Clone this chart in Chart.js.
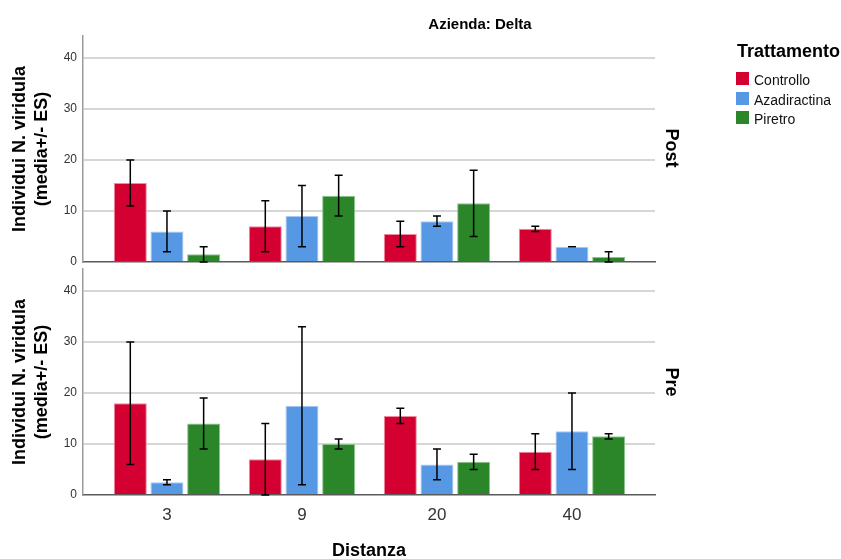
<!DOCTYPE html>
<html>
<head>
<meta charset="utf-8">
<script src="https://cdn.jsdelivr.net/npm/chart.js@4.4.1/dist/chart.umd.min.js"></script>
<style>
  body { margin: 0; background: #fff; font-family: "Liberation Sans", Arial, sans-serif; }
  #wrap { position: relative; width: 841px; height: 559px; overflow: hidden; }
  canvas { position: absolute; left: 0; top: 0; }
  .lbl { position: absolute; white-space: nowrap; color: #000; }
  .strip { font-weight: bold; font-size: 18px; transform: translate(-50%, -50%) rotate(90deg); }
  #panel-title { left: 480px; top: 23px; font-weight: bold; font-size: 15px; transform: translate(-50%, -50%); }
  #legend-title { left: 737px; top: 41px; font-weight: bold; font-size: 18px; }
  .legend-item { position: absolute; left: 736px; font-size: 14px; color: #111; }
  .legend-item span { display: inline-block; width: 13px; height: 13px; vertical-align: top; margin-right: 5px; }
</style>
</head>
<body>
<div id="wrap">
  <canvas id="post-chart" width="841" height="559"></canvas>
  <canvas id="pre-chart" width="841" height="559"></canvas>
  <div class="lbl" id="panel-title">Azienda: Delta</div>
  <div class="lbl strip" style="left:671px; top:148px;">Post</div>
  <div class="lbl strip" style="left:671px; top:382px;">Pre</div>
  <div class="lbl" id="legend-title">Trattamento</div>
  <div id="legend"></div>
</div>
<script>
const distances = ["3", "9", "20", "40"];
const treatments = ["Controllo", "Azadiractina", "Piretro"];
const colors = ["#d50032", "#5698e4", "#2b862a"];
const borderColors = ["#ef8aa0", "#a9cbf2", "#8cc48b"];

// Post
const postControllo = [15.5, 7, 5.5, 6.5];
const postControlloLow = [11, 2, 3, 6];
const postControlloHigh = [20, 12, 8, 7];
const postAzadiractina = [6, 9, 8, 3];
const postAzadiractinaLow = [2, 3, 7, 3];
const postAzadiractinaHigh = [10, 15, 9, 3];
const postPiretro = [1.5, 13, 11.5, 1];
const postPiretroLow = [0, 9, 5, 0];
const postPiretroHigh = [3, 17, 18, 2];

// Pre
const preControllo = [18, 7, 15.5, 8.5];
const preControlloLow = [6, 0, 14, 5];
const preControlloHigh = [30, 14, 17, 12];
const preAzadiractina = [2.5, 17.5, 6, 12.5];
const preAzadiractinaLow = [2, 2, 3, 5];
const preAzadiractinaHigh = [3, 33, 9, 20];
const prePiretro = [14, 10, 6.5, 11.5];
const prePiretroLow = [9, 9, 5, 11];
const prePiretroHigh = [19, 11, 8, 12];

const fontFamily = '"Liberation Sans", Arial, sans-serif';

const errorBars = {
  id: "errorBars",
  afterDatasetsDraw(chart) {
    const ctx = chart.ctx;
    const yScale = chart.scales.y;
    ctx.save();
    ctx.strokeStyle = "#000";
    ctx.lineWidth = 1.5;
    chart.data.datasets.forEach((ds, di) => {
      chart.getDatasetMeta(di).data.forEach((bar, i) => {
        const top = yScale.getPixelForValue(ds.errHigh[i]);
        const bottom = yScale.getPixelForValue(ds.errLow[i]);
        ctx.beginPath();
        ctx.moveTo(bar.x, top);
        ctx.lineTo(bar.x, bottom);
        ctx.moveTo(bar.x - 4, top);
        ctx.lineTo(bar.x + 4, top);
        ctx.moveTo(bar.x - 4, bottom);
        ctx.lineTo(bar.x + 4, bottom);
        ctx.stroke();
      });
    });
    ctx.restore();
  },
};

function toPoints(values) {
  return values.map((v, i) => ({ x: i, y: v }));
}

function makeDataset(index, values, low, high) {
  return {
    label: treatments[index],
    data: toPoints(values),
    errLow: low,
    errHigh: high,
    backgroundColor: colors[index],
    borderColor: borderColors[index],
    borderWidth: 1,
    categoryPercentage: 0.815,
    barPercentage: 0.9,
  };
}

function makePanel(canvasId, datasets, areaTop, showXLabels) {
  const ctx = document.getElementById(canvasId).getContext("2d");
  return new Chart(ctx, {
    type: "bar",
    data: { datasets: datasets },
    plugins: [errorBars],
    options: {
      responsive: false,
      animation: false,
      layout: {
        padding: {
          left: 0,
          right: 186,
          top: areaTop,
          bottom: showXLabels ? 0 : 559 - areaTop - 226,
        },
      },
      plugins: {
        legend: { display: false },
        tooltip: { enabled: false },
      },
      scales: {
        x: {
          type: "linear",
          offset: false,
          min: -0.622,
          max: 3.615,
          afterBuildTicks: (scale) => {
            scale.ticks = distances.map((d, i) => ({ value: i }));
          },
          afterFit: (scale) => {
            scale.height = showXLabels ? 64 : 0;
          },
          grid: { display: false, drawTicks: false, offset: false },
          border: { display: true, color: "#5a5a5a", width: 1.5 },
          ticks: {
            display: showXLabels,
            padding: 10,
            color: "#333",
            font: { family: fontFamily, size: 17 },
            callback: (value) => distances[value],
          },
          title: {
            display: showXLabels,
            text: "Distanza",
            color: "#000",
            font: { family: fontFamily, size: 18, weight: "bold" },
            padding: { top: 0, bottom: -3 },
          },
        },
        y: {
          min: 0,
          max: 44.3,
          afterFit: (scale) => {
            scale.width = 83;
          },
          grid: {
            drawTicks: false,
            lineWidth: 2,
            color: (c) => (c.tick && c.tick.value === 0 ? "rgba(0,0,0,0)" : "#d6d6d6"),
          },
          border: { display: true, color: "#9a9a9a", width: 1.5 },
          ticks: {
            stepSize: 10,
            includeBounds: false,
            padding: 6,
            color: "#333",
            font: { family: fontFamily, size: 12 },
          },
          title: {
            display: true,
            text: ["Individui N. viridula", "(media+/- ES)"],
            color: "#000",
            font: { family: fontFamily, size: 18, weight: "bold", lineHeight: 22 / 18 },
            padding: { top: 9, bottom: 0 },
          },
        },
      },
    },
  });
}

makePanel(
  "post-chart",
  [
    makeDataset(0, postControllo, postControlloLow, postControlloHigh),
    makeDataset(1, postAzadiractina, postAzadiractinaLow, postAzadiractinaHigh),
    makeDataset(2, postPiretro, postPiretroLow, postPiretroHigh),
  ],
  36,
  false
);

makePanel(
  "pre-chart",
  [
    makeDataset(0, preControllo, preControlloLow, preControlloHigh),
    makeDataset(1, preAzadiractina, preAzadiractinaLow, preAzadiractinaHigh),
    makeDataset(2, prePiretro, prePiretroLow, prePiretroHigh),
  ],
  269,
  true
);

const legend = document.getElementById("legend");
treatments.forEach((name, i) => {
  const item = document.createElement("div");
  item.className = "legend-item";
  item.style.top = 72 + i * 19.7 + "px";
  item.innerHTML = `<span style="background:${colors[i]}"></span>${name}`;
  legend.appendChild(item);
});
</script>
</body>
</html>
